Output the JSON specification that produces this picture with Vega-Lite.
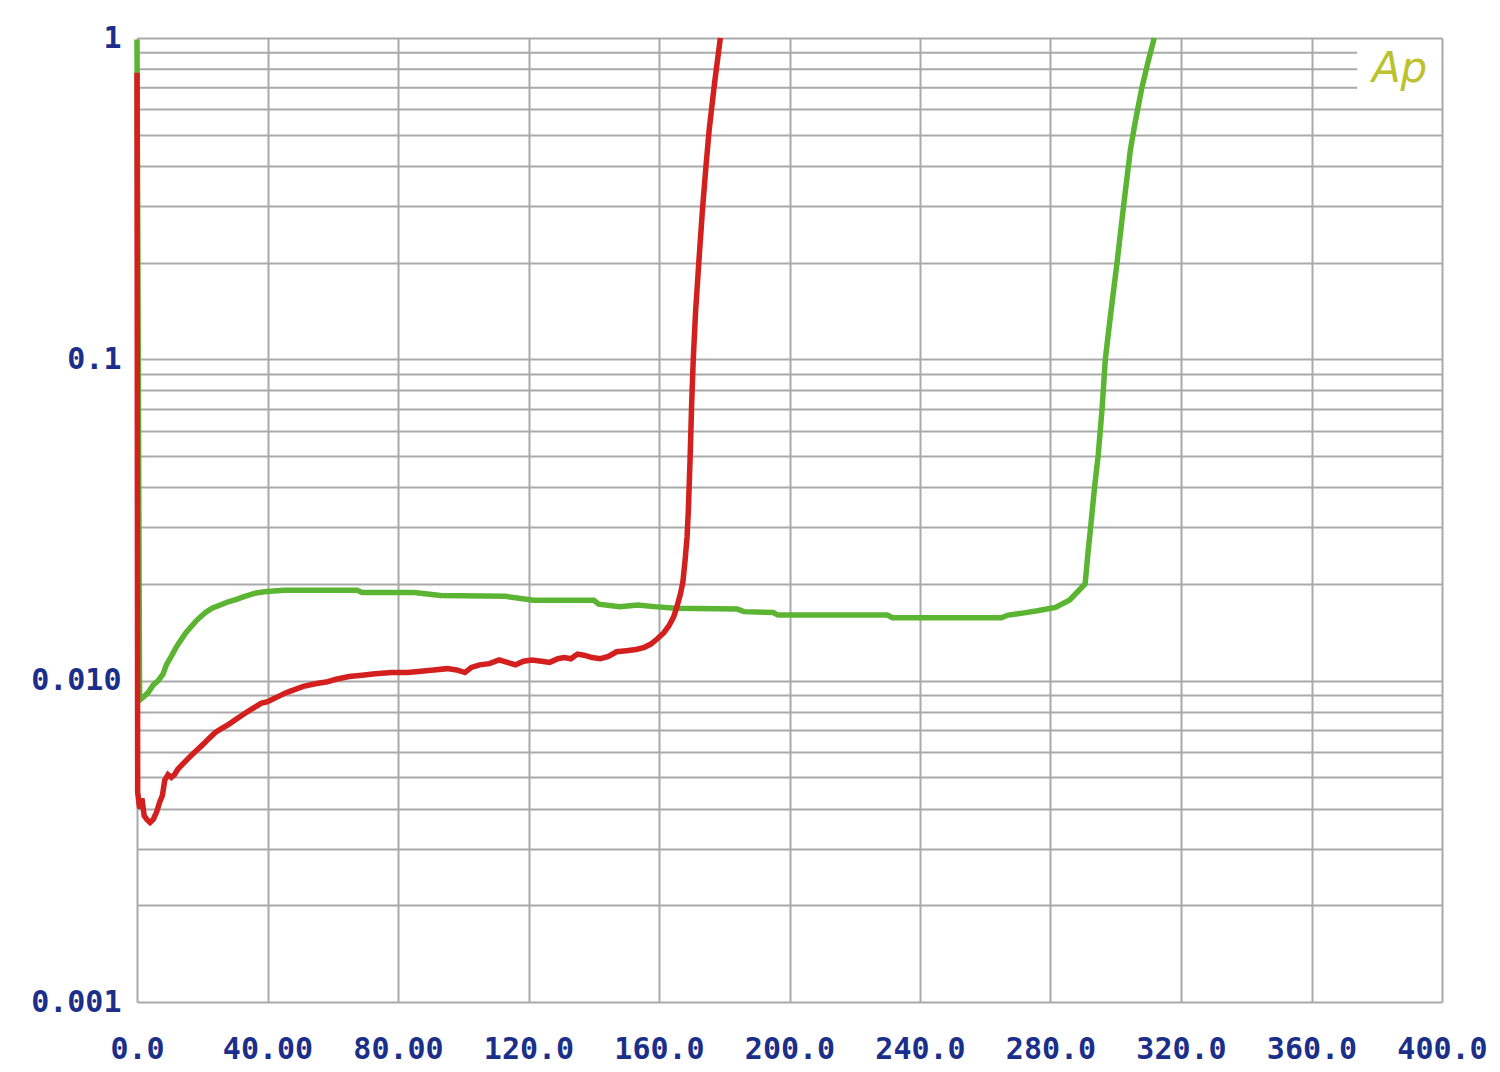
{
  "$schema": "https://vega.github.io/schema/vega-lite/v6.json",
  "width": 1305,
  "height": 964,
  "autosize": {"type": "none"},
  "padding": {"left": 137, "top": 38, "right": 58, "bottom": 70},
  "background": "white",
  "config": {
    "view": {"stroke": null},
    "axis": {
      "domain": false,
      "ticks": false,
      "grid": true,
      "gridColor": "#a9a9a9",
      "gridWidth": 2,
      "gridOpacity": 1,
      "labelFont": "DejaVu Sans Mono",
      "labelFontWeight": "bold",
      "labelFontSize": 30,
      "labelColor": "#1b2f8a",
      "labelOverlap": false,
      "labelFlush": false,
      "labelBound": false,
      "title": null
    }
  },
  "datasets": {
    "curves": [
      {"series": "green", "power": 0, "thd": 0.99},
      {"series": "green", "power": 0.8, "thd": 0.0087},
      {"series": "green", "power": 2.0, "thd": 0.0089},
      {"series": "green", "power": 3.5, "thd": 0.0092},
      {"series": "green", "power": 5.0, "thd": 0.0097},
      {"series": "green", "power": 6.5, "thd": 0.0100},
      {"series": "green", "power": 8.0, "thd": 0.0105},
      {"series": "green", "power": 9.0, "thd": 0.0112},
      {"series": "green", "power": 10.5, "thd": 0.0119},
      {"series": "green", "power": 12.0, "thd": 0.0127},
      {"series": "green", "power": 13.5, "thd": 0.0134},
      {"series": "green", "power": 15.0, "thd": 0.0141},
      {"series": "green", "power": 16.5, "thd": 0.0147},
      {"series": "green", "power": 18.0, "thd": 0.0153},
      {"series": "green", "power": 19.5, "thd": 0.0158},
      {"series": "green", "power": 21.0, "thd": 0.0163},
      {"series": "green", "power": 23.0, "thd": 0.0168},
      {"series": "green", "power": 25.5, "thd": 0.0172},
      {"series": "green", "power": 28.0, "thd": 0.0176},
      {"series": "green", "power": 30.5, "thd": 0.0179},
      {"series": "green", "power": 33.0, "thd": 0.0183},
      {"series": "green", "power": 36.0, "thd": 0.0187},
      {"series": "green", "power": 39.0, "thd": 0.0189},
      {"series": "green", "power": 42.0, "thd": 0.0190},
      {"series": "green", "power": 45.0, "thd": 0.0191},
      {"series": "green", "power": 55.0, "thd": 0.0191},
      {"series": "green", "power": 67.5, "thd": 0.0191},
      {"series": "green", "power": 69.0, "thd": 0.0188},
      {"series": "green", "power": 85.0, "thd": 0.0188},
      {"series": "green", "power": 93.0, "thd": 0.0184},
      {"series": "green", "power": 113.0, "thd": 0.0183},
      {"series": "green", "power": 121.5, "thd": 0.0178},
      {"series": "green", "power": 140.0, "thd": 0.0178},
      {"series": "green", "power": 141.5, "thd": 0.0173},
      {"series": "green", "power": 148.0, "thd": 0.0170},
      {"series": "green", "power": 153.5, "thd": 0.0172},
      {"series": "green", "power": 158.5, "thd": 0.0170},
      {"series": "green", "power": 165.0, "thd": 0.0168},
      {"series": "green", "power": 184.0, "thd": 0.0167},
      {"series": "green", "power": 186.0, "thd": 0.0164},
      {"series": "green", "power": 195.0, "thd": 0.0163},
      {"series": "green", "power": 196.5, "thd": 0.0160},
      {"series": "green", "power": 230.0, "thd": 0.0160},
      {"series": "green", "power": 231.5, "thd": 0.0157},
      {"series": "green", "power": 265.0, "thd": 0.0157},
      {"series": "green", "power": 267.0, "thd": 0.0160},
      {"series": "green", "power": 271.0, "thd": 0.0162},
      {"series": "green", "power": 276.0, "thd": 0.0165},
      {"series": "green", "power": 281.5, "thd": 0.0169},
      {"series": "green", "power": 285.8, "thd": 0.0178},
      {"series": "green", "power": 290.6, "thd": 0.0200},
      {"series": "green", "power": 291.5, "thd": 0.0250},
      {"series": "green", "power": 292.3, "thd": 0.030},
      {"series": "green", "power": 293.5, "thd": 0.040},
      {"series": "green", "power": 294.6, "thd": 0.050},
      {"series": "green", "power": 295.8, "thd": 0.070},
      {"series": "green", "power": 296.8, "thd": 0.10},
      {"series": "green", "power": 298.5, "thd": 0.14},
      {"series": "green", "power": 300.4, "thd": 0.20},
      {"series": "green", "power": 302.4, "thd": 0.30},
      {"series": "green", "power": 304.5, "thd": 0.45},
      {"series": "green", "power": 306.0, "thd": 0.55},
      {"series": "green", "power": 308.0, "thd": 0.70},
      {"series": "green", "power": 310.0, "thd": 0.85},
      {"series": "green", "power": 311.8, "thd": 1.0},
      {"series": "red", "power": 0, "thd": 0.78},
      {"series": "red", "power": 0.2, "thd": 0.0045},
      {"series": "red", "power": 0.8, "thd": 0.0040},
      {"series": "red", "power": 1.5, "thd": 0.0043},
      {"series": "red", "power": 2.2, "thd": 0.0038},
      {"series": "red", "power": 3.0, "thd": 0.0037},
      {"series": "red", "power": 4.0, "thd": 0.00362},
      {"series": "red", "power": 5.0, "thd": 0.0037},
      {"series": "red", "power": 6.0, "thd": 0.0039},
      {"series": "red", "power": 7.0, "thd": 0.0042},
      {"series": "red", "power": 7.8, "thd": 0.0044},
      {"series": "red", "power": 8.5, "thd": 0.0049},
      {"series": "red", "power": 9.5, "thd": 0.0051},
      {"series": "red", "power": 10.5, "thd": 0.0050},
      {"series": "red", "power": 11.5, "thd": 0.0051},
      {"series": "red", "power": 12.5, "thd": 0.0053},
      {"series": "red", "power": 14.0, "thd": 0.0055},
      {"series": "red", "power": 15.5, "thd": 0.0057},
      {"series": "red", "power": 17.0, "thd": 0.0059},
      {"series": "red", "power": 18.5, "thd": 0.0061},
      {"series": "red", "power": 20.0, "thd": 0.0063},
      {"series": "red", "power": 22.0, "thd": 0.0066},
      {"series": "red", "power": 24.0, "thd": 0.0069},
      {"series": "red", "power": 26.0, "thd": 0.0071},
      {"series": "red", "power": 28.0, "thd": 0.0073},
      {"series": "red", "power": 30.5, "thd": 0.0076},
      {"series": "red", "power": 33.0, "thd": 0.0079},
      {"series": "red", "power": 35.5, "thd": 0.0082},
      {"series": "red", "power": 38.0, "thd": 0.0085},
      {"series": "red", "power": 40.0, "thd": 0.0086},
      {"series": "red", "power": 42.0, "thd": 0.0088},
      {"series": "red", "power": 44.0, "thd": 0.0090},
      {"series": "red", "power": 46.0, "thd": 0.0092},
      {"series": "red", "power": 48.5, "thd": 0.0094},
      {"series": "red", "power": 51.0, "thd": 0.0096},
      {"series": "red", "power": 55.0, "thd": 0.0098},
      {"series": "red", "power": 58.0, "thd": 0.0099},
      {"series": "red", "power": 61.0, "thd": 0.0101},
      {"series": "red", "power": 65.0, "thd": 0.0103},
      {"series": "red", "power": 69.0, "thd": 0.0104},
      {"series": "red", "power": 73.0, "thd": 0.0105},
      {"series": "red", "power": 78.0, "thd": 0.0106},
      {"series": "red", "power": 83.0, "thd": 0.0106},
      {"series": "red", "power": 87.0, "thd": 0.0107},
      {"series": "red", "power": 91.0, "thd": 0.0108},
      {"series": "red", "power": 95.0, "thd": 0.0109},
      {"series": "red", "power": 98.0, "thd": 0.0108},
      {"series": "red", "power": 100.5, "thd": 0.0106},
      {"series": "red", "power": 102.5, "thd": 0.0110},
      {"series": "red", "power": 105.0, "thd": 0.0112},
      {"series": "red", "power": 108.0, "thd": 0.0113},
      {"series": "red", "power": 111.0, "thd": 0.0116},
      {"series": "red", "power": 113.5, "thd": 0.0114},
      {"series": "red", "power": 116.0, "thd": 0.0112},
      {"series": "red", "power": 118.5, "thd": 0.0115},
      {"series": "red", "power": 121.0, "thd": 0.0116},
      {"series": "red", "power": 124.0, "thd": 0.0115},
      {"series": "red", "power": 126.5, "thd": 0.0114},
      {"series": "red", "power": 129.0, "thd": 0.0117},
      {"series": "red", "power": 131.0, "thd": 0.0118},
      {"series": "red", "power": 133.0, "thd": 0.0117},
      {"series": "red", "power": 135.0, "thd": 0.0121},
      {"series": "red", "power": 137.0, "thd": 0.0120},
      {"series": "red", "power": 139.5, "thd": 0.0118},
      {"series": "red", "power": 142.0, "thd": 0.0117},
      {"series": "red", "power": 144.5, "thd": 0.0119},
      {"series": "red", "power": 147.0, "thd": 0.0123},
      {"series": "red", "power": 150.0, "thd": 0.0124},
      {"series": "red", "power": 153.0, "thd": 0.0125},
      {"series": "red", "power": 155.5, "thd": 0.0127},
      {"series": "red", "power": 157.5, "thd": 0.0130},
      {"series": "red", "power": 159.5, "thd": 0.0135},
      {"series": "red", "power": 161.5, "thd": 0.0141},
      {"series": "red", "power": 163.0, "thd": 0.0148},
      {"series": "red", "power": 164.5, "thd": 0.0158},
      {"series": "red", "power": 165.5, "thd": 0.0170},
      {"series": "red", "power": 166.5, "thd": 0.0185},
      {"series": "red", "power": 167.3, "thd": 0.0202},
      {"series": "red", "power": 168.0, "thd": 0.0237},
      {"series": "red", "power": 168.6, "thd": 0.0280},
      {"series": "red", "power": 169.0, "thd": 0.034},
      {"series": "red", "power": 169.5, "thd": 0.048},
      {"series": "red", "power": 170.0, "thd": 0.072},
      {"series": "red", "power": 170.5, "thd": 0.10},
      {"series": "red", "power": 171.2, "thd": 0.14},
      {"series": "red", "power": 172.2, "thd": 0.20},
      {"series": "red", "power": 173.3, "thd": 0.29},
      {"series": "red", "power": 174.4, "thd": 0.40},
      {"series": "red", "power": 175.4, "thd": 0.52},
      {"series": "red", "power": 177.0, "thd": 0.72},
      {"series": "red", "power": 178.8, "thd": 1.0}
    ],
    "shortGrid": [{"g": 0.7}, {"g": 0.8}, {"g": 0.9}]
  },
  "layer": [
    {
      "data": {"name": "shortGrid"},
      "mark": {"type": "rule", "color": "#a9a9a9", "strokeWidth": 2},
      "encoding": {
        "x": {"datum": 0, "type": "quantitative"},
        "x2": {"datum": 374},
        "y": {"field": "g", "type": "quantitative"}
      }
    },
    {
      "data": {"name": "curves"},
      "transform": [{"filter": "datum.series === 'green'"}],
      "mark": {"type": "line", "color": "#5bb432", "strokeWidth": 5.5, "clip": false},
      "encoding": {
        "x": {
          "field": "power",
          "type": "quantitative",
          "scale": {"domain": [0, 400], "nice": false, "zero": false},
          "axis": {
            "values": [0, 40, 80, 120, 160, 200, 240, 280, 320, 360, 400],
            "labelExpr": "datum.value === 0 ? '0.0' : (datum.value < 100 ? format(datum.value, '.2f') : format(datum.value, '.1f'))",
            "labelPadding": 47,
            "labelBaseline": "middle"
          }
        },
        "y": {
          "field": "thd",
          "type": "quantitative",
          "scale": {"type": "log", "domain": [0.001, 1], "nice": false},
          "axis": {
            "values": [0.001, 0.002, 0.003, 0.004, 0.005, 0.006, 0.007, 0.008, 0.009, 0.01, 0.02, 0.03, 0.04, 0.05, 0.06, 0.07, 0.08, 0.09, 0.1, 0.2, 0.3, 0.4, 0.5, 0.6, 1],
            "labelExpr": "datum.value === 1 ? '1' : datum.value === 0.1 ? '0.1' : datum.value === 0.01 ? '0.010' : datum.value === 0.001 ? '0.001' : ''",
            "labelPadding": 16
          }
        }
      }
    },
    {
      "data": {"name": "curves"},
      "transform": [{"filter": "datum.series === 'red'"}],
      "mark": {"type": "line", "color": "#d41f1f", "strokeWidth": 5.5, "clip": false},
      "encoding": {
        "x": {"field": "power", "type": "quantitative"},
        "y": {"field": "thd", "type": "quantitative"}
      }
    },
    {
      "data": {"values": [{"label": "Ap"}]},
      "mark": {"type": "text", "font": "DejaVu Sans", "fontStyle": "italic", "fontSize": 42, "fontWeight": 300, "color": "#bcc22e", "align": "center", "baseline": "middle"},
      "encoding": {
        "x": {"datum": 387, "type": "quantitative"},
        "y": {"datum": 0.8, "type": "quantitative"},
        "text": {"field": "label"}
      }
    }
  ]
}
